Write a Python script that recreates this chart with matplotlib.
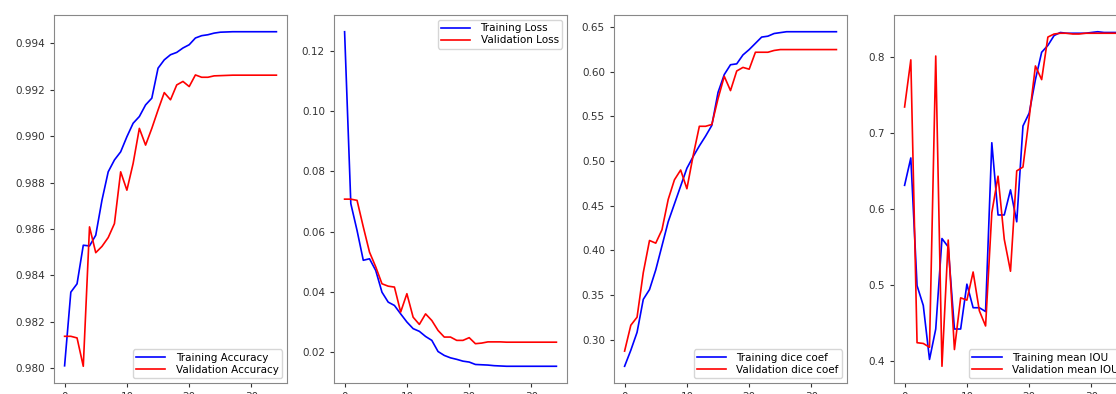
import numpy as np
import matplotlib
matplotlib.use("Agg")
import matplotlib.pyplot as plt

# ---------- training history (35 epochs) ----------
epochs = list(range(35))

train_acc = [0.98011, 0.98328, 0.98364, 0.98530, 0.98527, 0.98573, 0.98724, 0.98846,
             0.98897, 0.98932, 0.98997, 0.99055, 0.99084, 0.99134, 0.99163, 0.99292,
             0.99328, 0.99350, 0.99360, 0.99379, 0.99393, 0.99422, 0.99432, 0.99436,
             0.99443, 0.99447, 0.99448, 0.99449, 0.99449, 0.99449, 0.99449, 0.99449,
             0.99449, 0.99449, 0.99449]
val_acc = [0.98138, 0.98138, 0.98131, 0.98009, 0.98609, 0.98498, 0.98525, 0.98563,
           0.98623, 0.98846, 0.98767, 0.98882, 0.99033, 0.98961, 0.99033, 0.99112,
           0.99187, 0.99156, 0.99220, 0.99235, 0.99213, 0.99263, 0.99253, 0.99253,
           0.99259, 0.99260, 0.99261, 0.99262, 0.99262, 0.99262, 0.99262, 0.99262,
           0.99262, 0.99262, 0.99262]

train_loss = [0.1264, 0.0693, 0.0604, 0.0505, 0.0510, 0.0471, 0.0399, 0.0366,
              0.0355, 0.0327, 0.0300, 0.0278, 0.0269, 0.0252, 0.0239, 0.0202,
              0.0189, 0.0181, 0.0176, 0.0170, 0.0167, 0.0159, 0.0158, 0.0157,
              0.0155, 0.0154, 0.0153, 0.0153, 0.0153, 0.0153, 0.0153, 0.0153,
              0.0153, 0.0153, 0.0153]
val_loss = [0.0708, 0.0708, 0.0704, 0.0616, 0.0532, 0.0483, 0.0427, 0.0419,
            0.0416, 0.0333, 0.0394, 0.0316, 0.0292, 0.0327, 0.0305, 0.0272,
            0.0250, 0.0250, 0.0239, 0.0239, 0.0248, 0.0228, 0.0230, 0.0234,
            0.0234, 0.0234, 0.0233, 0.0233, 0.0233, 0.0233, 0.0233, 0.0233,
            0.0233, 0.0233, 0.0233]

train_dice = [0.270, 0.288, 0.308, 0.345, 0.356, 0.378, 0.405, 0.432,
              0.452, 0.472, 0.492, 0.505, 0.517, 0.528, 0.540, 0.577,
              0.597, 0.608, 0.609, 0.619, 0.625, 0.632, 0.639, 0.640,
              0.643, 0.644, 0.645, 0.645, 0.645, 0.645, 0.645, 0.645,
              0.645, 0.645, 0.645]
val_dice = [0.287, 0.316, 0.325, 0.375, 0.411, 0.408, 0.423, 0.457,
            0.479, 0.490, 0.469, 0.506, 0.539, 0.539, 0.541, 0.570,
            0.595, 0.579, 0.601, 0.605, 0.603, 0.622, 0.622, 0.622,
            0.624, 0.625, 0.625, 0.625, 0.625, 0.625, 0.625, 0.625,
            0.625, 0.625, 0.625]

train_iou = [0.631, 0.667, 0.499, 0.473, 0.402, 0.442, 0.561, 0.550,
             0.442, 0.442, 0.501, 0.470, 0.470, 0.465, 0.687, 0.592,
             0.592, 0.625, 0.583, 0.709, 0.726, 0.770, 0.806, 0.815,
             0.828, 0.832, 0.831, 0.831, 0.831, 0.831, 0.832, 0.833,
             0.832, 0.832, 0.832]
val_iou = [0.734, 0.796, 0.424, 0.423, 0.418, 0.801, 0.393, 0.559,
           0.415, 0.483, 0.480, 0.517, 0.466, 0.446, 0.595, 0.643,
           0.560, 0.518, 0.650, 0.655, 0.720, 0.788, 0.770, 0.826,
           0.830, 0.831, 0.831, 0.830, 0.830, 0.831, 0.831, 0.831,
           0.831, 0.831, 0.831]

panels = [
    (train_acc, val_acc, "Training Accuracy", "Validation Accuracy", "lower right"),
    (train_loss, val_loss, "Training Loss", "Validation Loss", "upper right"),
    (train_dice, val_dice, "Training dice coef", "Validation dice coef", "lower right"),
    (train_iou, val_iou, "Training mean IOU", "Validation mean IOU", "lower right"),
]

# ---------- figure ----------
W, H = 1116, 394
fig = plt.figure(figsize=(W / 100, H / 100), dpi=100)

ax_w = 233 / W
ax_b = (H - 383) / H
ax_h = (383 - 15) / H
lefts = [54, 334, 614, 894]

for (tr, va, tl, vl, loc), lx in zip(panels, lefts):
    ax = fig.add_axes([lx / W, ax_b, ax_w, ax_h])
    ax.plot(epochs, tr, color="blue", lw=1.2, label=tl)
    ax.plot(epochs, va, color="red", lw=1.2, label=vl)
    ax.set_xticks([0, 10, 20, 30])
    ax.tick_params(labelsize=7.5, colors="#333333", length=3)
    for s in ax.spines.values():
        s.set_color("#888888")
    ax.legend(loc=loc, fontsize=7.5, handlelength=2.8, handletextpad=1.0,
              borderpad=0.3, labelspacing=0.2)

fig.savefig("out.png", dpi=100)
